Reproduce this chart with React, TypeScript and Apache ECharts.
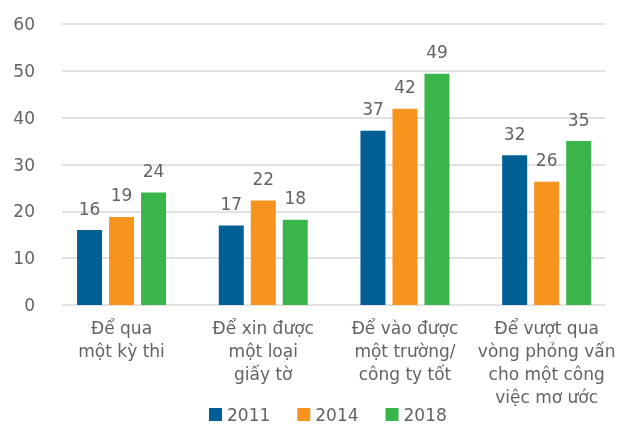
import React, { useEffect, useRef } from "react";
import * as echarts from "echarts";

const categories = [
  "Để qua\nmột kỳ thi",
  "Để xin được\nmột loại\ngiấy tờ",
  "Để vào được\nmột trường/\ncông ty tốt",
  "Để vượt qua\nvòng phỏng vấn\ncho một công\nviệc mơ ước",
];
const seriesNames = ["2011", "2014", "2018"];
const values2011 = [16.0, 17.0, 37.2, 32.0];
const values2014 = [18.8, 22.3, 41.9, 26.3];
const values2018 = [24.0, 18.2, 49.4, 35.0];
const colors = ["#005F94", "#F7941E", "#3AB54A"];

const FONT = "'DejaVu Sans', sans-serif";
const TEXT = "#636363";

export default function App() {
  const ref = useRef<HTMLDivElement>(null);
  useEffect(() => {
    if (!ref.current) return;
    const chart = echarts.init(ref.current, null, { renderer: "svg" });
    const data = [values2011, values2014, values2018];
    chart.setOption({
      animation: false,
      textStyle: { fontFamily: FONT },
      grid: [
        { left: 50.7, top: 24, width: 570.7, bottom: 122, containLabel: false },
        { left: 62, top: 24, width: 543, bottom: 122, containLabel: false },
      ],
      legend: {
        data: seriesNames,
        left: 209,
        top: 406,
        itemWidth: 13,
        itemHeight: 13,
        itemGap: 27,
        icon: "rect",
        textStyle: { color: TEXT, fontSize: 17, fontFamily: FONT },
        padding: 0,
      },
      xAxis: [
        {
          type: "category",
          gridIndex: 0,
          data: categories,
          axisLine: { show: false },
          axisTick: { show: false },
          axisLabel: {
            color: TEXT,
            fontSize: 17,
            lineHeight: 23,
            margin: 11,
            interval: 0,
            fontFamily: FONT,
          },
        },
        { type: "category", gridIndex: 1, data: [], show: false },
      ],
      yAxis: [
        { type: "value", gridIndex: 0, min: 0, max: 60, interval: 10, show: false },
        {
          type: "value",
          gridIndex: 1,
          min: 0,
          max: 60,
          interval: 10,
          axisLine: { show: false },
          axisTick: { show: false },
          axisLabel: { color: TEXT, fontSize: 17, margin: 27, fontFamily: FONT },
          splitLine: { lineStyle: { color: "#D9D9D9", width: 1.5 } },
        },
      ],
      series: seriesNames.map((name, i) => ({
        name,
        type: "bar",
        xAxisIndex: 0,
        yAxisIndex: 0,
        data: data[i],
        barWidth: 25,
        barGap: "28%",
        itemStyle: { color: colors[i] },
        label: {
          show: true,
          position: "top",
          distance: 13,
          color: TEXT,
          fontSize: 17,
          fontFamily: FONT,
          formatter: (p: any) => String(Math.round(p.value)),
        },
      })),
    });
    return () => chart.dispose();
  }, []);
  return (
    <div
      ref={ref}
      style={{ position: "fixed", left: 0, top: 0, width: 618, height: 427 }}
    />
  );
}
